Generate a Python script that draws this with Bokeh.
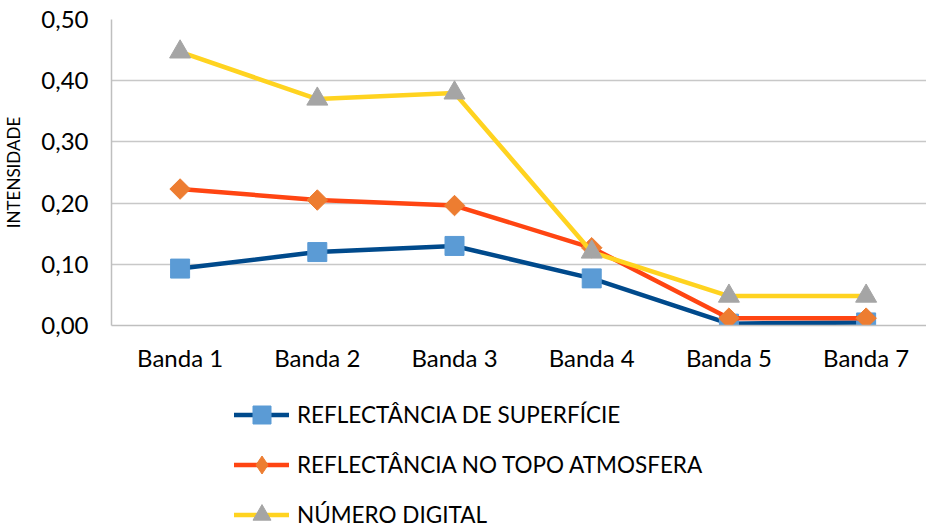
import math
from bokeh.plotting import figure
from bokeh.layouts import column
from bokeh.models import Legend, LegendItem, FixedTicker, CustomJSTickFormatter, Range1d
from bokeh.embed import file_html
from bokeh.resources import INLINE

categories = ["Banda 1", "Banda 2", "Banda 3", "Banda 4", "Banda 5", "Banda 7"]
superficie = [0.093, 0.120, 0.130, 0.077, 0.003, 0.005]
topo_atm = [0.223, 0.205, 0.196, 0.127, 0.012, 0.012]
numero_digital = [0.447, 0.370, 0.380, 0.120, 0.048, 0.048]
series_names = ["REFLECTÂNCIA DE SUPERFÍCIE", "REFLECTÂNCIA NO TOPO ATMOSFERA", "NÚMERO DIGITAL"]
y_ticks = [0.0, 0.1, 0.2, 0.3, 0.4, 0.5]

FONT = "Lato"
xs = list(range(len(categories)))

styles = [
    dict(line="#004A8C", marker="square", size=19, angle=0.0, fill="#5B9BD5", lmarker="square"),
    dict(line="#FF4512", marker="square", size=14.5, angle=math.pi / 4, fill="#ED7D31", lmarker="diamond"),
    dict(line="#FFD320", marker="triangle", size=21, angle=0.0, fill="#A5A5A5", lmarker="triangle"),
]
data = [superficie, topo_atm, numero_digital]

p = figure(frame_width=815, frame_height=306, output_backend="svg", toolbar_location=None,
           x_range=Range1d(-0.5, 5.44), y_range=Range1d(0, 0.5),
           min_border_left=111, min_border_right=0, min_border_top=19,
           min_border_bottom=62)
p.outline_line_color = None

p.xaxis.ticker = FixedTicker(ticks=xs)
p.xaxis.major_label_overrides = {i: c for i, c in enumerate(categories)}
p.yaxis.ticker = FixedTicker(ticks=y_ticks)
p.yaxis.formatter = CustomJSTickFormatter(code="return tick.toFixed(2).replace('.', ',');")
for ax in (p.xaxis, p.yaxis):
    ax.major_tick_line_color = None
    ax.minor_tick_line_color = None
    ax.axis_line_color = "#BFBFBF"
    ax.axis_line_width = 1.5
    ax.major_label_text_font = FONT
    ax.major_label_text_font_size = "24px"
    ax.major_label_text_color = "#000000"
p.xaxis.major_label_standoff = 11
p.yaxis.major_label_standoff = 17
p.yaxis.axis_label = "INTENSIDADE"
p.yaxis.axis_label_text_font = FONT
p.yaxis.axis_label_text_font_size = "17px"
p.yaxis.axis_label_text_font_style = "normal"
p.yaxis.axis_label_text_color = "#000000"
p.yaxis.axis_label_standoff = 14
p.xgrid.grid_line_color = None
p.ygrid.grid_line_color = "#C8C8C8"
p.ygrid.grid_line_width = 1.5

for ys, st in zip(data, styles):
    p.line(xs, ys, line_color=st["line"], line_width=4.5)
    p.scatter(xs, ys, marker=st["marker"], size=st["size"], angle=st["angle"],
              fill_color=st["fill"], line_color=st["fill"])

# legend panel below the chart (its series lie outside its visible range)
lg = figure(width=926, height=140, output_backend="svg", toolbar_location=None,
            x_range=Range1d(100, 101), y_range=Range1d(100, 101),
            x_axis_type=None, y_axis_type=None,
            min_border_left=0, min_border_right=0, min_border_top=0, min_border_bottom=0)
lg.outline_line_color = None
lg.xgrid.grid_line_color = None
lg.ygrid.grid_line_color = None
items = []
for name, ys, st in zip(series_names, data, styles):
    r1 = lg.line(xs, ys, line_color=st["line"], line_width=4.5, line_cap="round")
    r2 = lg.scatter(xs, ys, marker=st["lmarker"], size=st["size"],
                    fill_color=st["fill"], line_color=st["fill"])
    items.append(LegendItem(label=name, renderers=[r1, r2]))
legend = Legend(items=items, location=(123, -10), orientation="vertical")
legend.glyph_width = 55
legend.glyph_height = 45
legend.spacing = 5
legend.padding = 0
legend.margin = 0
legend.label_standoff = 8
legend.border_line_color = None
legend.background_fill_alpha = 0
legend.label_text_font = FONT
legend.label_text_font_size = "22.5px"
legend.label_text_color = "#000000"
lg.add_layout(legend, "center")

layout = column(p, lg, spacing=0)
open("out.html", "w").write(file_html(layout, INLINE))
